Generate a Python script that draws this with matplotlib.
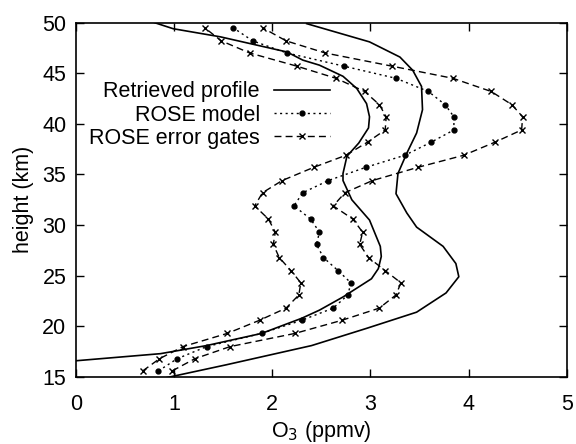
import matplotlib.pyplot as plt

plt.rcParams['font.family'] = ['Liberation Sans', 'DejaVu Sans']

# ROSE model and error gates, sampled at the same heights (km)
heights = [15.6, 16.8, 18.0, 19.3, 20.6, 21.8, 23.1, 24.3, 25.5, 26.8, 28.1, 29.3, 30.6, 31.9,
           33.2, 34.4, 35.7, 36.9, 38.2, 39.4, 40.7, 41.9, 43.2, 44.5, 45.7, 47.0, 48.2, 49.5]
rose_model = [0.84, 1.03, 1.33, 1.89, 2.30, 2.62, 2.77, 2.80, 2.67, 2.52, 2.45, 2.48, 2.39, 2.22,
              2.31, 2.57, 2.95, 3.35, 3.62, 3.85, 3.85, 3.76, 3.59, 3.26, 2.73, 2.15, 1.80, 1.60]
gate_low = [0.68, 0.85, 1.09, 1.54, 1.87, 2.14, 2.27, 2.29, 2.19, 2.07, 2.01, 2.03, 1.96, 1.82,
            1.90, 2.10, 2.42, 2.75, 2.97, 3.15, 3.16, 3.09, 2.94, 2.65, 2.25, 1.77, 1.48, 1.31]
gate_high = [0.98, 1.21, 1.57, 2.23, 2.71, 3.09, 3.26, 3.31, 3.15, 2.98, 2.89, 2.92, 2.82, 2.62,
             2.74, 3.02, 3.48, 3.95, 4.27, 4.54, 4.55, 4.44, 4.23, 3.84, 3.22, 2.54, 2.14, 1.90]

# retrieved profile, lower and upper bound curves
ret_low_h = [16.6, 17.3, 18.1, 19.3, 20.8, 21.6, 22.9, 24.7, 25.7, 26.9, 27.9, 30.5, 32.5, 34.4,
             35.1, 36.8, 38.1, 39.6, 40.7, 42.0, 43.5, 44.7, 45.8, 46.3, 47.1, 48.6, 49.4, 50.0]
ret_low_x = [0.00, 0.86, 1.33, 1.89, 2.30, 2.48, 2.72, 3.01, 3.08, 3.11, 3.10, 2.99, 2.81, 2.72,
             2.72, 2.76, 2.88, 2.98, 2.99, 2.96, 2.86, 2.72, 2.48, 2.31, 2.15, 1.47, 0.99, 0.80]
ret_high_h = [14.8, 16.2, 18.1, 19.8, 21.4, 23.3, 24.9, 26.2, 27.9, 29.8, 31.2, 33.1, 35.1,
              37.1, 39.1, 41.4, 43.7, 45.3, 46.6, 48.1, 49.9]
ret_high_x = [0.86, 1.53, 2.40, 2.96, 3.47, 3.77, 3.90, 3.87, 3.74, 3.47, 3.37, 3.26, 3.28,
              3.37, 3.47, 3.53, 3.52, 3.43, 3.30, 2.99, 2.35]

fig = plt.figure(figsize=(5.76, 4.44), dpi=100)
ax = fig.add_axes([0.132, 0.151, 0.852, 0.798])

ax.plot(ret_low_x, ret_low_h, color='black', lw=1.2, label='Retrieved profile')
ax.plot(ret_high_x, ret_high_h, color='black', lw=1.2)
ax.plot(rose_model, heights, color='black', lw=1.0, linestyle=(0, (1.5, 2.5)),
        marker='o', markersize=3.5, label='ROSE model')
ax.plot(gate_low, heights, color='black', lw=1.0, linestyle=(0, (5, 3)),
        marker='x', markersize=5, markeredgewidth=1.0, label='ROSE error gates')
ax.plot(gate_high, heights, color='black', lw=1.0, linestyle=(0, (5, 3)),
        marker='x', markersize=5, markeredgewidth=1.0)

ax.set_xlim(0, 5)
ax.set_ylim(15, 50)
ax.set_xticks([0, 1, 2, 3, 4, 5])
ax.set_yticks([15, 20, 25, 30, 35, 40, 45, 50])
ax.tick_params(direction='in', length=6, width=1, labelsize=15.5, top=True, right=True)
ax.tick_params(axis='x', pad=12)
ax.tick_params(axis='y', pad=7)
for s in ax.spines.values():
    s.set_linewidth(1.2)

ax.set_xlabel('O$_3$ (ppmv)', fontsize=15.5, labelpad=3)
ax.set_ylabel('height (km)', fontsize=15.5, labelpad=6)

ax.legend(loc='center right', bbox_to_anchor=(0.517, 0.739), frameon=False, fontsize=15.5,
          markerfirst=False, numpoints=1, handlelength=2.6, handletextpad=0.65,
          labelspacing=0.1, borderpad=0, borderaxespad=0)

fig.savefig('out.png', dpi=100)
